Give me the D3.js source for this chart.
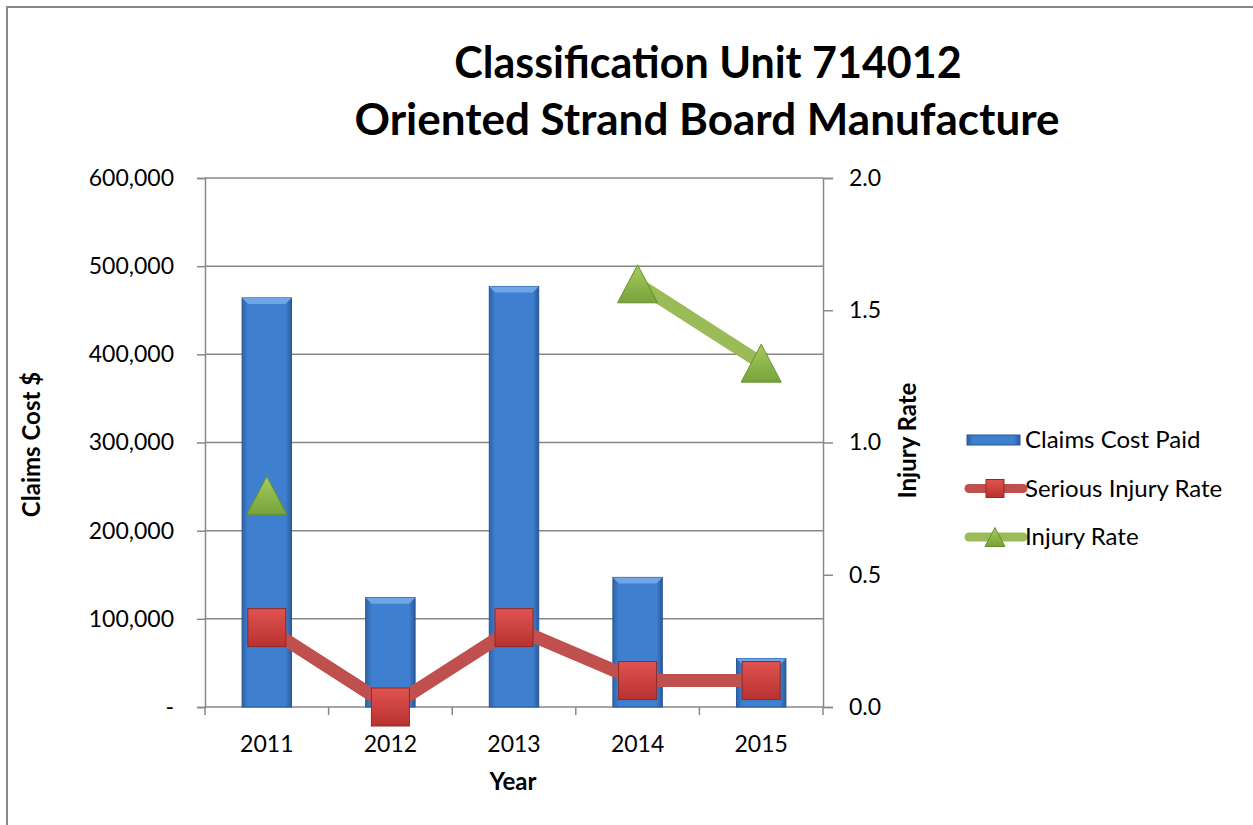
<!DOCTYPE html>
<html>
<head>
<meta charset="utf-8">
<script src="https://cdn.jsdelivr.net/npm/d3@7"></script>
<style>
  body { margin: 0; background: #fff; }
  svg text { font-family: Lato, "Open Sans", sans-serif; fill: #000; }
</style>
</head>
<body>
<div id="chart"></div>
<script>
// chart data
const years = ["2011", "2012", "2013", "2014", "2015"];
const claimsCost = [464000, 124000, 477000, 147000, 55000];
const seriousInjuryRate = [0.3, 0.0, 0.3, 0.1, 0.1];
const injuryRate = [0.8, null, null, 1.6, 1.3];
const leftTicks = [0, 100000, 200000, 300000, 400000, 500000, 600000];
const rightTicks = [0, 0.5, 1.0, 1.5, 2.0];

const width = 1253, height = 825;
const margin = {top: 178, right: 430, bottom: 118, left: 205};
const plotW = width - margin.left - margin.right;
const plotH = height - margin.top - margin.bottom;

const svg = d3.select("#chart").append("svg")
    .attr("width", width)
    .attr("height", height);

// outer frame
svg.append("rect")
    .attr("x", 7).attr("y", 7)
    .attr("width", width).attr("height", height)
    .attr("fill", "none").attr("stroke", "#888").attr("stroke-width", 2);

const defs = svg.append("defs");
const barGrad = defs.append("linearGradient").attr("id", "barGrad")
    .attr("x1", 0).attr("x2", 1).attr("y1", 0).attr("y2", 0);
barGrad.append("stop").attr("offset", "0%").attr("stop-color", "#2e62a8");
barGrad.append("stop").attr("offset", "12%").attr("stop-color", "#3f7fcf");
barGrad.append("stop").attr("offset", "88%").attr("stop-color", "#3f7fcf");
barGrad.append("stop").attr("offset", "100%").attr("stop-color", "#2a5a9c");

const redGrad = defs.append("linearGradient").attr("id", "redGrad")
    .attr("x1", 0).attr("x2", 0).attr("y1", 0).attr("y2", 1);
redGrad.append("stop").attr("offset", "0%").attr("stop-color", "#e0534f");
redGrad.append("stop").attr("offset", "100%").attr("stop-color", "#b83230");

const greenGrad = defs.append("linearGradient").attr("id", "greenGrad")
    .attr("x1", 0).attr("x2", 0).attr("y1", 0).attr("y2", 1);
greenGrad.append("stop").attr("offset", "0%").attr("stop-color", "#a6cc5c");
greenGrad.append("stop").attr("offset", "100%").attr("stop-color", "#76a33a");

const g = svg.append("g")
    .attr("transform", `translate(${margin.left},${margin.top})`);

// scales
const x = d3.scaleBand().domain(years).range([0, plotW]).paddingInner(0.6).paddingOuter(0.3);
const xc = d3.scaleBand().domain(years).range([0, plotW]);
const y = d3.scaleLinear().domain([0, 600000]).range([plotH, 0]);
const y1 = d3.scaleLinear().domain([0, 2]).range([plotH, 0]);

// gridlines
g.append("g")
    .selectAll("line")
    .data(leftTicks.slice(1))
    .join("line")
    .attr("x1", 0).attr("x2", plotW)
    .attr("y1", d => y(d)).attr("y2", d => y(d))
    .attr("stroke", "#888").attr("stroke-width", 1.5);

// left axis
const yAxis = d3.axisLeft(y).tickValues(leftTicks).tickSize(8).tickPadding(23)
    .tickFormat(d => d === 0 ? "-" : d3.format(",")(d));
const gy = g.append("g").call(yAxis);
gy.selectAll("text").style("font-size", "23px");

// right axis
const y1Axis = d3.axisRight(y1).tickValues(rightTicks).tickSize(10).tickPadding(16)
    .tickFormat(d3.format(".1f"));
const gy1 = g.append("g").attr("transform", `translate(${plotW},0)`).call(y1Axis);
gy1.selectAll("text").style("font-size", "23px");

// x axis (ticks between categories)
const gx = g.append("g").attr("transform", `translate(0,${plotH})`);
gx.append("line").attr("x1", 0).attr("x2", plotW).attr("y1", 0).attr("y2", 0);
gx.selectAll("line.tick")
    .data(d3.range(years.length + 1))
    .join("line")
    .attr("class", "tick")
    .attr("x1", i => i * xc.step()).attr("x2", i => i * xc.step())
    .attr("y1", 0).attr("y2", 8);
gx.selectAll("text")
    .data(years)
    .join("text")
    .attr("x", d => xc(d) + xc.bandwidth() / 2)
    .attr("y", 45)
    .attr("text-anchor", "middle")
    .style("font-size", "23px")
    .text(d => d);

[gy, gy1, gx].forEach(a => {
    a.selectAll("path.domain, line").attr("stroke", "#888").attr("stroke-width", 1.5);
});

// bars
const bars = g.append("g").selectAll("g")
    .data(years.map((d, i) => ({year: d, v: claimsCost[i]})))
    .join("g");
bars.append("rect")
    .attr("x", d => x(d.year))
    .attr("y", d => y(d.v))
    .attr("width", x.bandwidth())
    .attr("height", d => plotH - y(d.v))
    .attr("fill", "url(#barGrad)")
    .attr("stroke", "#2a5796").attr("stroke-width", 1);
bars.append("path")
    .attr("d", d => {
        const x0 = x(d.year), w = x.bandwidth(), t = y(d.v);
        return `M${x0},${t}L${x0 + w},${t}L${x0 + w - 6},${t + 6}L${x0 + 6},${t + 6}Z`;
    })
    .attr("fill", "#6fa6e8");

const cx = d => xc(d) + xc.bandwidth() / 2;

// serious injury rate line
const sLine = d3.line()
    .x((d, i) => cx(years[i]))
    .y(d => y1(d));
g.append("path")
    .attr("d", sLine(seriousInjuryRate))
    .attr("fill", "none").attr("stroke", "#c0504d").attr("stroke-width", 13);

g.append("g").selectAll("rect")
    .data(seriousInjuryRate)
    .join("rect")
    .attr("x", (d, i) => cx(years[i]) - 19)
    .attr("y", d => y1(d) - 19)
    .attr("width", 38).attr("height", 38)
    .attr("fill", "url(#redGrad)")
    .attr("stroke", "#8e2a28").attr("stroke-width", 1);

// injury rate line (gaps where no data)
const iLine = d3.line()
    .defined(d => d !== null)
    .x((d, i) => cx(years[i]))
    .y(d => y1(d));
g.append("path")
    .attr("d", iLine(injuryRate))
    .attr("fill", "none").attr("stroke", "#9bbb59").attr("stroke-width", 13);

// triangle marker centred on its box
const triPath = (w, h) => `M0,${-h / 2}L${w / 2},${h / 2}L${-w / 2},${h / 2}Z`;
g.append("g").selectAll("path")
    .data(years.map((d, i) => ({year: d, v: injuryRate[i]})).filter(d => d.v !== null))
    .join("path")
    .attr("transform", d => `translate(${cx(d.year)},${y1(d.v)})`)
    .attr("d", triPath(40, 38))
    .attr("fill", "url(#greenGrad)")
    .attr("stroke", "#6a8f30").attr("stroke-width", 1);

// titles
svg.append("text")
    .attr("x", 708).attr("y", 78)
    .attr("text-anchor", "middle")
    .style("font-size", "43px").style("font-weight", "bold")
    .text("Classification Unit 714012");
svg.append("text")
    .attr("x", 707).attr("y", 135)
    .attr("text-anchor", "middle")
    .style("font-size", "44px").style("font-weight", "bold")
    .text("Oriented Strand Board Manufacture");

svg.append("text")
    .attr("transform", `translate(40,${margin.top + plotH / 2 + 2}) rotate(-90)`)
    .attr("text-anchor", "middle")
    .style("font-size", "24px").style("font-weight", "bold")
    .text("Claims Cost $");
svg.append("text")
    .attr("transform", `translate(916,${margin.top + plotH / 2 - 2}) rotate(-90)`)
    .attr("text-anchor", "middle")
    .style("font-size", "24px").style("font-weight", "bold")
    .text("Injury Rate");
svg.append("text")
    .attr("x", 513).attr("y", 790)
    .attr("text-anchor", "middle")
    .style("font-size", "24px").style("font-weight", "bold")
    .text("Year");

// legend
const legend = svg.append("g").attr("transform", "translate(967,440)");
const legRow = 48.5;
legend.append("rect")
    .attr("x", 0).attr("y", -5).attr("width", 53).attr("height", 10)
    .attr("fill", "url(#barGrad)").attr("stroke", "#2a5796");
legend.append("line")
    .attr("x1", 2).attr("x2", 56).attr("y1", legRow).attr("y2", legRow)
    .attr("stroke", "#c0504d").attr("stroke-width", 9).attr("stroke-linecap", "round");
legend.append("rect")
    .attr("x", 19).attr("y", legRow - 9).attr("width", 18).attr("height", 18)
    .attr("fill", "url(#redGrad)").attr("stroke", "#8e2a28");
legend.append("line")
    .attr("x1", 2).attr("x2", 56).attr("y1", legRow * 2).attr("y2", legRow * 2)
    .attr("stroke", "#9bbb59").attr("stroke-width", 9).attr("stroke-linecap", "round");
legend.append("path")
    .attr("transform", `translate(28,${legRow * 2})`)
    .attr("d", triPath(20, 19))
    .attr("fill", "url(#greenGrad)").attr("stroke", "#6a8f30");
legend.selectAll("text.lbl")
    .data(["Claims Cost Paid", "Serious Injury Rate", "Injury Rate"])
    .join("text")
    .attr("class", "lbl")
    .attr("x", 58)
    .attr("y", (d, i) => i * legRow + 8)
    .style("font-size", "24px")
    .text(d => d);
</script>
</body>
</html>
